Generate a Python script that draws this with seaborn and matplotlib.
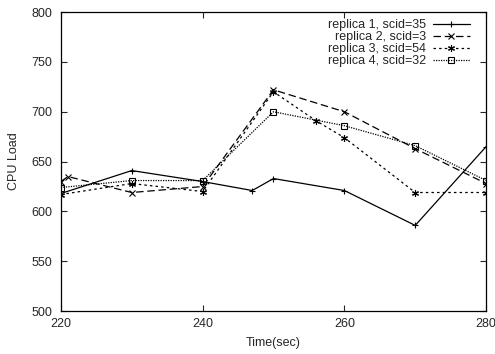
import numpy as np
import pandas as pd
import matplotlib
matplotlib.use("Agg")
import matplotlib.pyplot as plt
import seaborn as sns

# valores
t_rep1 = [220, 230, 240, 247, 250, 260, 270, 280]
cpu_rep1 = [618, 641, 630, 621, 633, 621, 586, 665]

t_rep2 = [220, 221, 230, 240, 250, 260, 270, 280]
cpu_rep2 = [630, 635, 619, 625, 722, 700, 663, 628]

t_rep3 = [220, 230, 240, 250, 256, 260, 270, 280]
cpu_rep3 = [617, 628, 620, 720, 691, 674, 619, 619]

t_rep4 = [220, 230, 240, 250, 260, 270, 280]
cpu_rep4 = [624, 631, 631, 700, 686, 666, 631]

labels = ["replica 1, scid=35", "replica 2, scid=3",
          "replica 3, scid=54", "replica 4, scid=32"]

sns.set_style("ticks")
plt.rcParams['font.family'] = ['Liberation Sans', 'DejaVu Sans']
plt.rcParams['font.size'] = 9

fig = plt.figure(figsize=(4.95, 3.54), dpi=100)
ax = fig.add_axes([0.123, 0.121, 0.859, 0.845])

markers = ['+', 'x', (6, 2, 0), 's']
estilos = ['-', (0, (6, 3)), (0, (2, 2.5)), (0, (1, 1))]

for lab, t, c, mk, ls in zip(labels, [t_rep1, t_rep2, t_rep3, t_rep4],
                             [cpu_rep1, cpu_rep2, cpu_rep3, cpu_rep4],
                             markers, estilos):
    d = pd.DataFrame({"Time": t, "CPU": c})
    sns.lineplot(data=d, x="Time", y="CPU", color="black", estimator=None,
                 sort=False, linewidth=0.9, linestyle=ls, marker=mk,
                 markersize=5, markerfacecolor="none", markeredgecolor="black",
                 markeredgewidth=0.8, label=lab, ax=ax)

ax.set_xlim(220, 280)
ax.set_ylim(500, 800)
ax.set_xticks([220, 240, 260, 280])
ax.set_yticks(np.arange(500, 801, 50))
ax.tick_params(direction="in", top=True, right=True, length=4, width=0.8,
               labelsize=9)
ax.tick_params(axis="y", pad=6)
ax.tick_params(axis="x", pad=5)
for s in ax.spines.values():
    s.set_linewidth(0.9)
    s.set_color("black")

ax.set_xlabel("Time(sec)", fontsize=9, labelpad=5)
ax.set_ylabel("CPU Load", fontsize=9, labelpad=8)

handles, labs = ax.get_legend_handles_labels()
leg = ax.legend(handles, labs, loc="upper right", frameon=False,
                markerfirst=False, handlelength=3, fontsize=9,
                bbox_to_anchor=((470 - 61) / 425, 0.977),
                borderaxespad=0, borderpad=0,
                labelspacing=0.0, handletextpad=0.55)

plt.savefig("out.png", dpi=100)
plt.close()
